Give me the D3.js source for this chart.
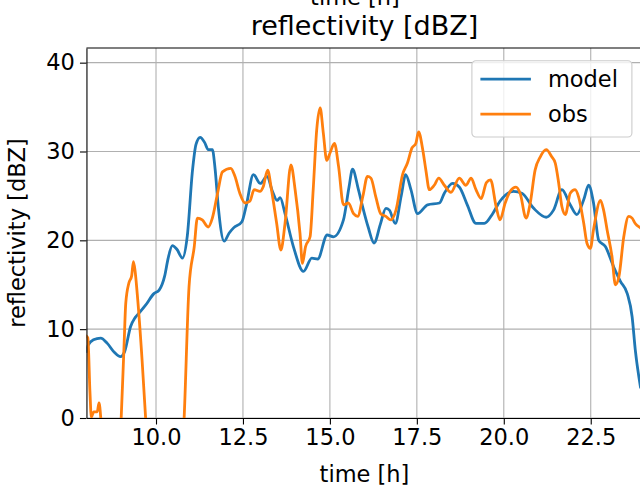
<!DOCTYPE html>
<html>
<head>
<meta charset="utf-8">
<script src="https://cdn.jsdelivr.net/npm/d3@7"></script>
<style>
  body { margin: 0; background: #fff; }
  svg { display: block; font-family: "DejaVu Sans", sans-serif; }
  .grid line { stroke: #b0b0b0; stroke-width: 1.1; }
  .axis path, .axis line { stroke: #000; stroke-width: 1.1; }
  .axis text { font-size: 22.5px; fill: #000; font-family: "DejaVu Sans", sans-serif; }
</style>
</head>
<body>
<div id="chart"></div>
<script>
// model run
const modelTime = [8.0, 8.05, 8.2, 8.41, 8.6, 8.8, 8.98, 9.1, 9.27, 9.4, 9.51, 9.7, 9.94, 10.09, 10.25, 10.35, 10.47, 10.6, 10.76, 10.9,
  11.05, 11.15, 11.27, 11.4, 11.5, 11.62, 11.7, 11.79, 11.96, 12.1, 12.23, 12.47, 12.6, 12.8, 13.0, 13.19, 13.35, 13.48, 13.57, 13.71,
  13.95, 14.24, 14.48, 14.65, 14.92, 15.1, 15.39, 15.55, 15.65, 15.82, 15.94, 16.1, 16.27, 16.45, 16.61, 16.71, 16.88, 17.05, 17.18, 17.33,
  17.52, 17.81, 18.15, 18.29, 18.53, 18.72, 18.95, 19.2, 19.44, 19.68, 19.89, 20.28, 20.52, 20.86, 21.22, 21.43, 21.67, 21.91, 22.1, 22.3,
  22.44, 22.58, 22.73, 22.92, 23.16, 23.35, 23.55, 23.69, 23.78, 23.93]
const modelValue = [7.5, 8.2, 8.8, 9.0, 8.4, 7.4, 6.9, 7.5, 10.3, 11.3, 11.8, 12.7, 14.0, 14.4, 16.0, 18.0, 19.4, 19.0, 18.0, 20.5,
  27.9, 30.8, 31.6, 31.0, 30.2, 30.2, 28.0, 23.8, 19.9, 20.8, 21.4, 22.1, 24.0, 27.4, 26.4, 27.2, 25.5, 24.5, 24.8, 23.0,
  19.3, 16.5, 18.0, 17.9, 20.6, 20.4, 22.3, 26.0, 28.0, 25.7, 23.8, 21.5, 19.7, 21.8, 23.6, 23.4, 21.9, 25.0, 27.4, 25.7,
  23.0, 24.0, 24.2, 25.3, 26.4, 26.0, 24.0, 21.9, 21.9, 23.0, 24.4, 25.5, 25.3, 23.6, 22.6, 23.4, 25.7, 24.0, 22.9, 24.6,
  26.2, 24.2, 20.0, 19.3, 17.0, 15.4, 14.0, 11.4, 7.7, 3.5]

// observations (values below the axis are cut off in the picture)
const obsTime = [8.0, 8.04, 8.1, 8.14, 8.21, 8.31, 8.36, 8.41, 8.5, 8.9, 9.0, 9.08, 9.13, 9.22, 9.3, 9.35, 9.4, 9.46, 9.6, 9.7,
  9.8, 10.7, 10.81, 10.95, 11.1, 11.19, 11.33, 11.5, 11.62, 11.77, 11.91, 12.15, 12.27, 12.41, 12.56, 12.7, 12.82, 12.99, 13.08, 13.21,
  13.32, 13.47, 13.59, 13.71, 13.88, 14.0, 14.14, 14.21, 14.3, 14.43, 14.52, 14.62, 14.72, 14.81, 14.91, 15.0, 15.13, 15.25, 15.39, 15.53,
  15.68, 15.8, 15.95, 16.08, 16.18, 16.32, 16.46, 16.61, 16.75, 16.9, 17.09, 17.23, 17.36, 17.47, 17.55, 17.67, 17.76, 17.86, 18.0, 18.13,
  18.29, 18.48, 18.72, 18.91, 19.06, 19.2, 19.35, 19.5, 19.62, 19.78, 19.89, 20.04, 20.18, 20.35, 20.47, 20.64, 20.76, 20.9, 21.05, 21.22,
  21.38, 21.48, 21.58, 21.67, 21.77, 21.91, 22.05, 22.15, 22.3, 22.39, 22.49, 22.58, 22.78, 22.87, 22.97, 23.11, 23.21, 23.31, 23.45, 23.59,
  23.69, 23.78, 23.93, 24.0]
const obsValue = [9.2, 9.0, 3.0, 0.1, 0.7, 0.7, 1.7, 0.1, -8, -8, 0.1, 8.0, 12.9, 15.2, 16.0, 17.6, 16.5, 14.0, 6.5, 0.1,
  -8, -8, 0.1, 14.8, 19.3, 22.5, 22.3, 21.5, 22.5, 25.3, 27.7, 28.1, 27.2, 25.3, 24.2, 24.4, 25.7, 25.5, 26.0, 27.9,
  25.7, 21.9, 18.9, 21.9, 28.5, 25.7, 20.8, 17.4, 19.3, 20.4, 25.7, 32.4, 34.9, 32.1, 29.0, 29.8, 30.9, 28.3, 24.0, 24.2,
  23.0, 22.7, 25.0, 27.2, 27.0, 24.9, 23.0, 22.7, 22.3, 23.4, 27.4, 28.7, 30.4, 30.9, 32.2, 30.2, 27.9, 25.7, 26.2, 27.0,
  26.2, 25.4, 27.0, 26.2, 27.0, 25.7, 24.7, 26.5, 26.8, 23.8, 22.3, 24.2, 25.5, 26.0, 25.3, 22.5, 24.2, 27.9, 29.4, 30.2,
  29.4, 28.7, 26.4, 23.8, 22.9, 25.3, 25.7, 24.9, 21.9, 19.7, 19.1, 21.2, 24.5, 23.4, 21.2, 18.2, 15.0, 15.9, 20.4, 22.7,
  22.5, 21.9, 21.4, 21.2]

const xTicks = [10, 12.5, 15, 17.5, 20, 22.5]
const yTicks = [0, 10, 20, 30, 40]
const seriesNames = ['model', 'obs']
const seriesColors = ['#1f77b4', '#ff7f0e']

const width = 640
const height = 489
const plotLeft = 86.45, plotRight = 642.9, plotTop = 48, plotBottom = 418

const svg = d3.select('#chart')
  .append('svg')
  .attr('width', width)
  .attr('height', height)

const xScale = d3.scaleLinear()
  .domain([8, 24])
  .range([plotLeft, plotRight])

const yScale = d3.scaleLinear()
  .domain([0, 41.65])
  .range([plotBottom, plotTop])

//grid
const grid = svg.append('g').attr('class', 'grid')

grid.selectAll('line.gx')
  .data(xTicks)
  .enter()
  .append('line')
  .attr('class', 'gx')
  .attr('x1', d => xScale(d)).attr('x2', d => xScale(d))
  .attr('y1', plotTop).attr('y2', plotBottom)

grid.selectAll('line.gy')
  .data(yTicks)
  .enter()
  .append('line')
  .attr('class', 'gy')
  .attr('x1', plotLeft).attr('x2', plotRight)
  .attr('y1', d => yScale(d)).attr('y2', d => yScale(d))

svg.append('clipPath')
  .attr('id', 'plot-clip')
  .append('rect')
  .attr('x', plotLeft).attr('y', plotTop)
  .attr('width', plotRight - plotLeft).attr('height', plotBottom - plotTop)

//lines
const line = d3.line()
  .x(d => xScale(d[0]))
  .y(d => yScale(d[1]))
  .curve(d3.curveMonotoneX)

const modelData = modelTime.map((t, i) => [t, modelValue[i]])
const obsData = obsTime.map((t, i) => [t, obsValue[i]])

const lines = svg.append('g').attr('clip-path', 'url(#plot-clip)')
;[modelData, obsData].forEach(function(data, i) {
  lines.append('path')
    .datum(data)
    .attr('d', line)
    .attr('fill', 'none')
    .attr('stroke', seriesColors[i])
    .attr('stroke-width', 2.8)
    .attr('stroke-linejoin', 'round')
    .attr('stroke-linecap', 'square')
})

//axes
const xAxis = d3.axisBottom(xScale)
  .tickValues(xTicks)
  .tickFormat(d3.format('.1f'))
  .tickSize(6.5)
  .tickPadding(5)
  .tickSizeOuter(0)

const yAxis = d3.axisLeft(yScale)
  .tickValues(yTicks)
  .tickSize(6.5)
  .tickPadding(5)
  .tickSizeOuter(0)

svg.append('g')
  .attr('class', 'axis')
  .attr('transform', 'translate(0,' + plotBottom + ')')
  .call(xAxis)

svg.append('g')
  .attr('class', 'axis')
  .attr('transform', 'translate(' + plotLeft + ',0)')
  .call(yAxis)

svg.append('line')
  .attr('x1', plotLeft).attr('x2', plotRight)
  .attr('y1', plotTop).attr('y2', plotTop)
  .attr('stroke', '#000')
  .attr('stroke-width', 1.1)

//titles
svg.append('text')
  .attr('x', 355)
  .attr('y', 5)
  .attr('text-anchor', 'middle')
  .style('font-size', '22.5px')
  .text('time [h]')

svg.append('text')
  .attr('x', 364.5)
  .attr('y', 35)
  .attr('text-anchor', 'middle')
  .style('font-size', '27px')
  .text('reflectivity [dBZ]')

svg.append('text')
  .attr('x', 364.5)
  .attr('y', 482)
  .attr('text-anchor', 'middle')
  .style('font-size', '22.5px')
  .text('time [h]')

svg.append('text')
  .attr('transform', 'translate(25,' + ((plotTop + plotBottom) / 2) + ') rotate(-90)')
  .attr('text-anchor', 'middle')
  .style('font-size', '22.5px')
  .text('reflectivity [dBZ]')

//legend
const legend = svg.append('g')
  .attr('transform', 'translate(' + (plotRight - 171) + ',' + (plotTop + 12.7) + ')')

legend.append('rect')
  .attr('width', 160)
  .attr('height', 76.3)
  .attr('rx', 4)
  .attr('fill', '#fff')
  .attr('fill-opacity', 0.8)
  .attr('stroke', '#cccccc')
  .attr('stroke-width', 1.1)

seriesNames.forEach(function(name, i) {
  legend.append('line')
    .attr('x1', 8.5).attr('x2', 59)
    .attr('y1', 18.5 + i * 35).attr('y2', 18.5 + i * 35)
    .attr('stroke', seriesColors[i])
    .attr('stroke-width', 2.8)
  legend.append('text')
    .attr('x', 76)
    .attr('y', 26.5 + i * 35)
    .style('font-size', '22.5px')
    .text(name)
})
</script>
</body>
</html>
